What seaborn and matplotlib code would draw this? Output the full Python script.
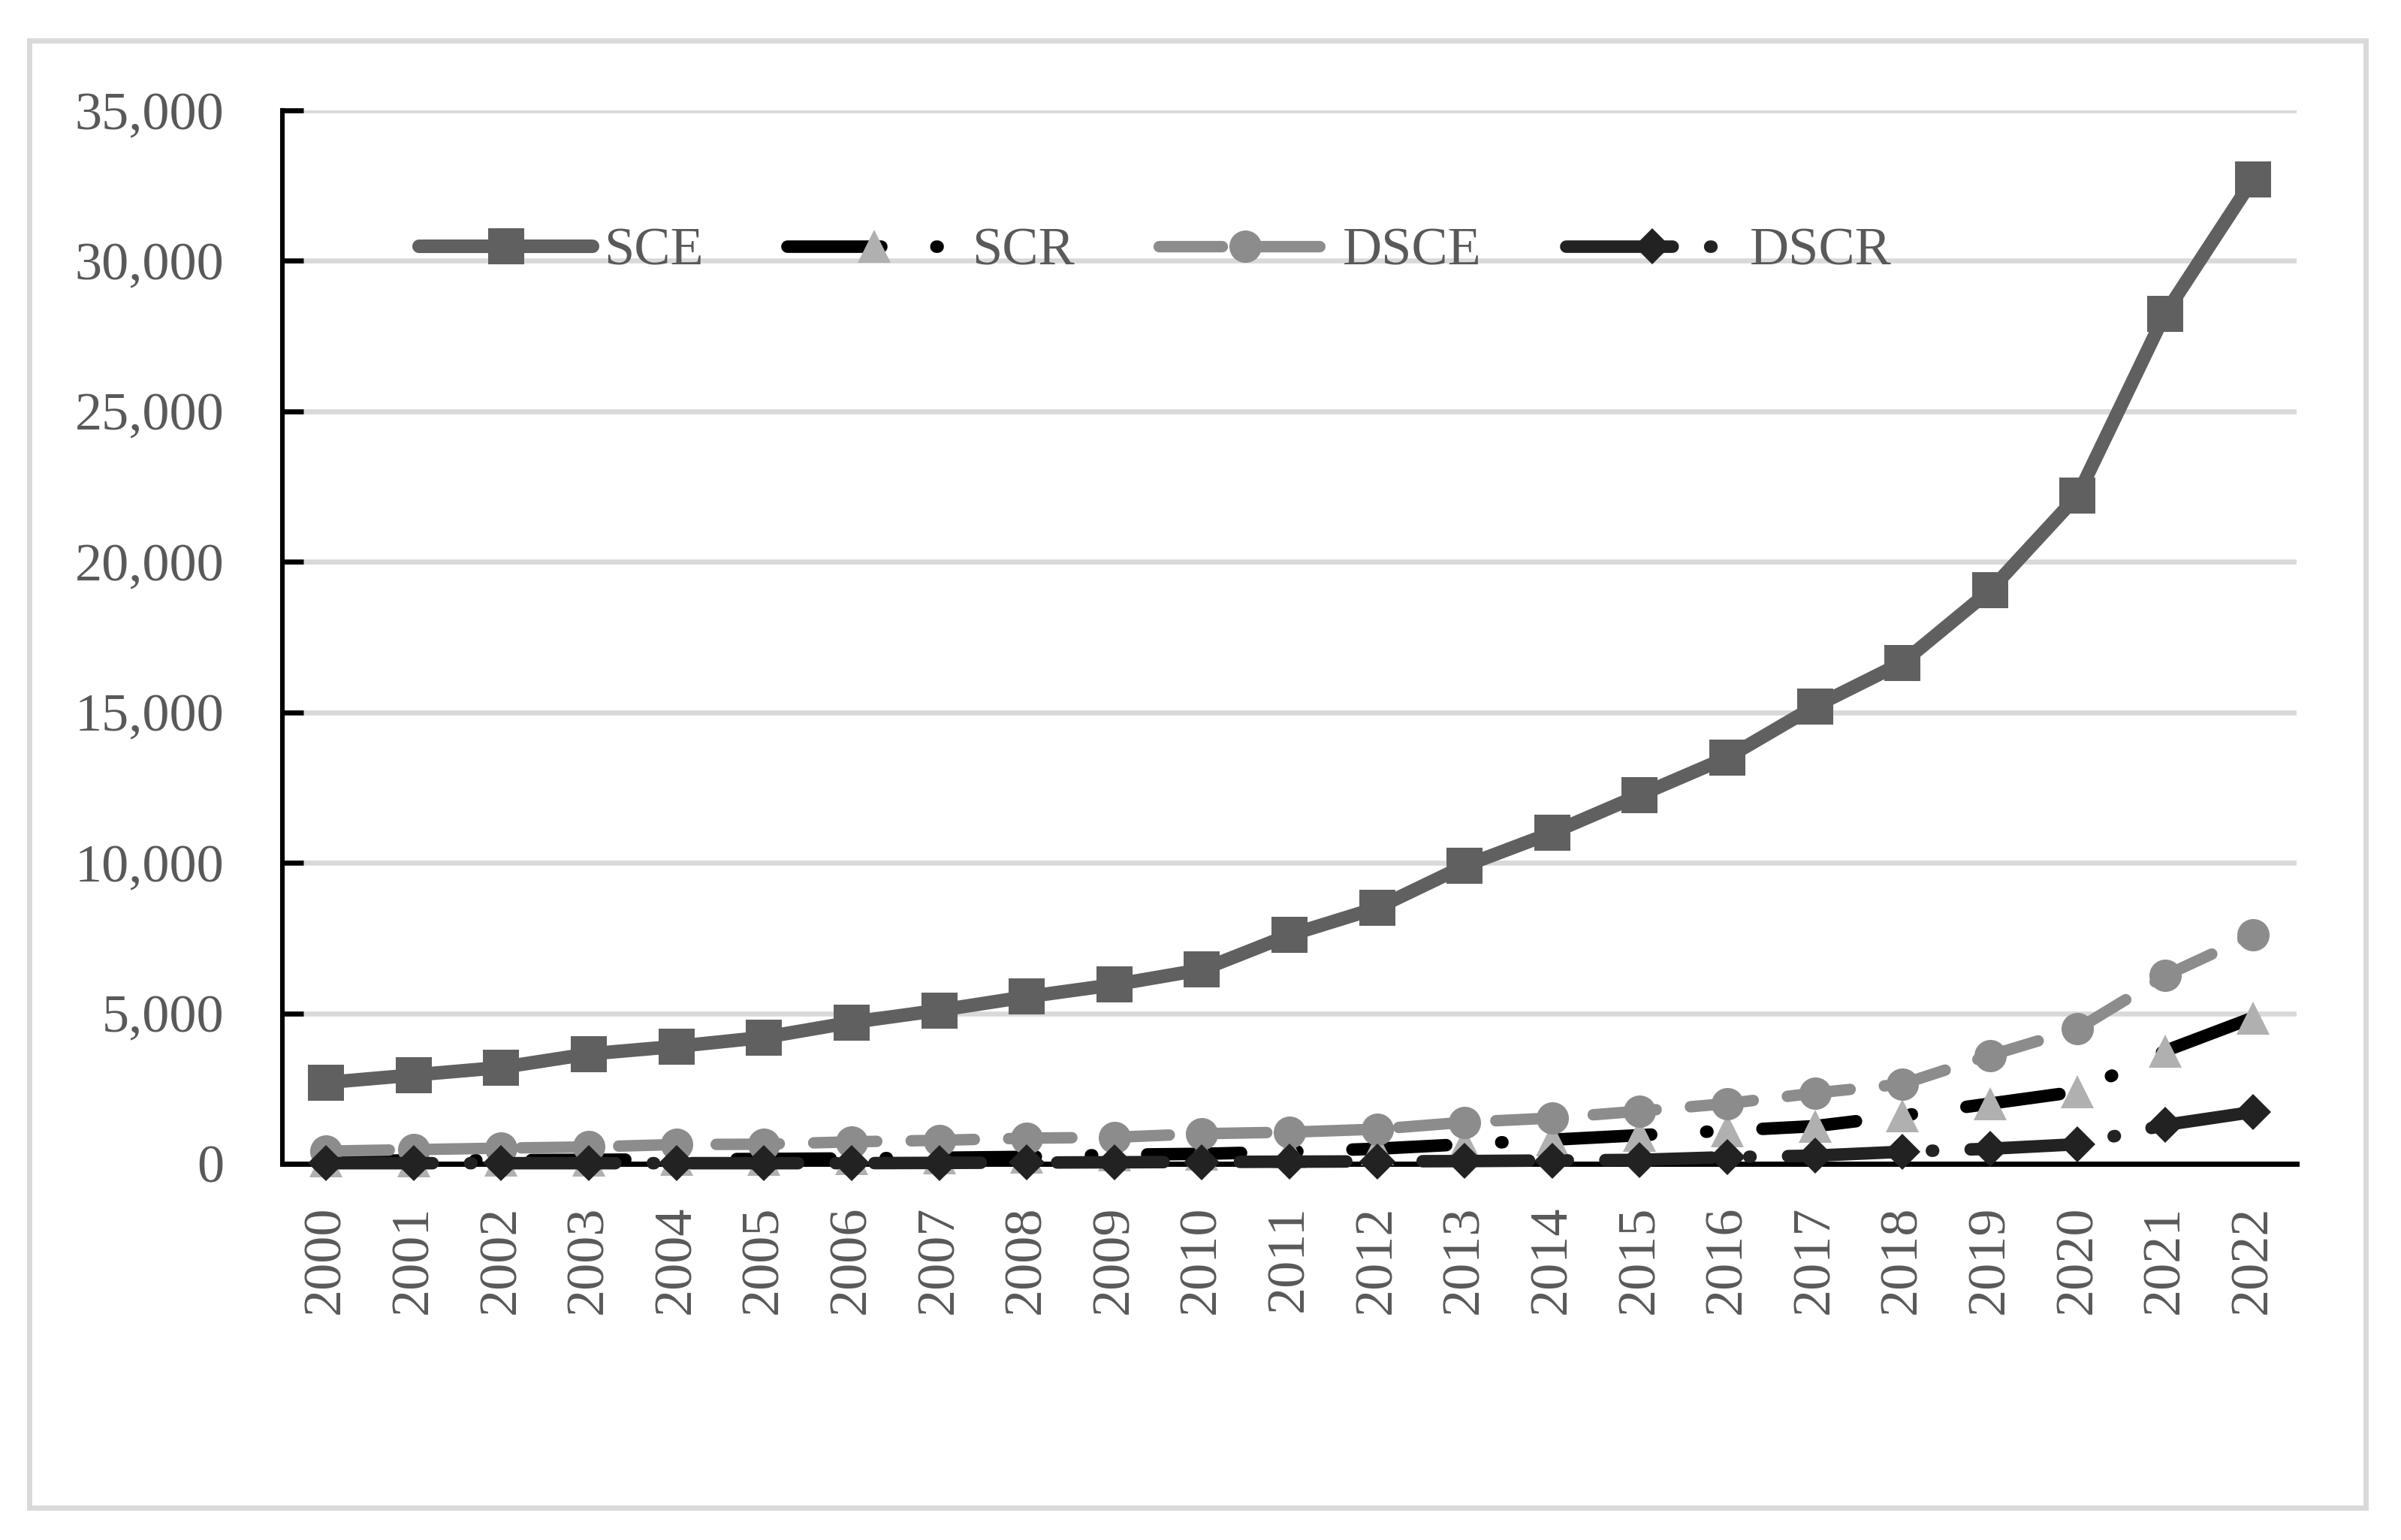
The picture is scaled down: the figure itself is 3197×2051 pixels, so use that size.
import pandas as pd
import matplotlib.pyplot as plt
import seaborn as sns
from matplotlib.patches import Rectangle
from matplotlib.ticker import FuncFormatter

# Данные
years = list(range(2000, 2023))
sce = [2700, 2950, 3200, 3650, 3900, 4200, 4700, 5100, 5550, 5950, 6450, 7600,
       8500, 9900, 11000, 12250, 13500, 15200, 16650, 19050, 22200, 28250, 32700]
scr = [100, 110, 120, 130, 150, 160, 180, 200, 230, 300, 330, 400,
       500, 650, 800, 950, 1100, 1250, 1600, 2000, 2400, 3750, 4850]
dsce = [420, 470, 520, 560, 640, 650, 730, 780, 850, 880, 1000, 1050,
        1150, 1380, 1520, 1750, 2000, 2350, 2650, 3600, 4480, 6250, 7600]
dscr = [20, 20, 20, 20, 20, 20, 20, 30, 40, 50, 60, 70,
        80, 90, 110, 130, 220, 270, 400, 500, 650, 1290, 1720]
series_names = ["SCE", "SCR", "DSCE", "DSCR"]

sns.set_theme(style="white")
plt.rcParams["font.family"] = ["Liberation Serif", "DejaVu Serif"]
text_color = "#595959"

df = pd.DataFrame({"year": years, "SCE": sce, "SCR": scr, "DSCE": dsce, "DSCR": dscr})

# Стили линий для каждого ряда
styles = {
    "SCE": dict(color="#606060", linewidth=6.5, linestyle="-", marker="s",
                markersize=17, markerfacecolor="#606060"),
    "SCR": dict(color="#000000", linewidth=6, linestyle=(0, (7.5, 4.4, 0.1, 4.4)),
                marker="^", markersize=16, markerfacecolor="#b0b0b0"),
    "DSCE": dict(color="#8c8c8c", linewidth=5.5, linestyle=(0, (5.5, 3)),
                 marker="o", markersize=15.5, markerfacecolor="#8c8c8c"),
    "DSCR": dict(color="#222222", linewidth=6, linestyle=(0, (8.5, 3, 0.1, 3)),
                 marker="D", markersize=12, markerfacecolor="#222222"),
}

fig = plt.figure(figsize=(3197 / 200, 2051 / 200), dpi=200)
ax = fig.add_axes([0.1176, 0.2443, 0.8389, 0.6840])

for name in series_names:
    st = styles[name]
    sns.lineplot(data=df, x="year", y=name, ax=ax, label=name,
                 markeredgewidth=0, markeredgecolor=st["markerfacecolor"],
                 dash_capstyle="round", solid_capstyle="round",
                 clip_on=False, zorder=3, **st)

ax.set_xlim(1999.5, 2022.5)
ax.set_ylim(0, 35000)
ax.set_xticks(years)
ax.set_yticks(range(0, 35001, 5000))
ax.yaxis.set_major_formatter(FuncFormatter(lambda v, p: f"{int(v):,}"))
ax.set_xlabel("")
ax.set_ylabel("")

ax.grid(axis="y", color="#d9d9d9", linewidth=2.4)
ax.set_axisbelow(True)
ax.spines[["top", "right"]].set_visible(False)
ax.spines["left"].set_color("black")
ax.spines["left"].set_linewidth(2.2)
ax.spines["bottom"].set_color("black")
ax.spines["bottom"].set_linewidth(2.5)

ax.tick_params(axis="y", direction="in", length=10, width=2.4, color="black",
               pad=28, labelsize=26, labelcolor=text_color, left=True)
ax.tick_params(axis="x", length=0, pad=20, labelsize=26, labelcolor=text_color,
               rotation=90)

handles, labels = ax.get_legend_handles_labels()
ax.legend(handles, labels, loc="center left", bbox_to_anchor=(0.068, 0.866),
          ncol=4, frameon=False, fontsize=26, handlelength=3.2,
          handletextpad=0.2, columnspacing=1.55, borderpad=0,
          borderaxespad=0, labelcolor=text_color)

# Светло-серая рамка вокруг всего рисунка
fig.add_artist(Rectangle((0.0122, 0.021), 0.9731, 0.9527, transform=fig.transFigure,
                         fill=False, edgecolor="#d9d9d9", linewidth=2.5))

fig.savefig("out.png", dpi=200, facecolor="white")
